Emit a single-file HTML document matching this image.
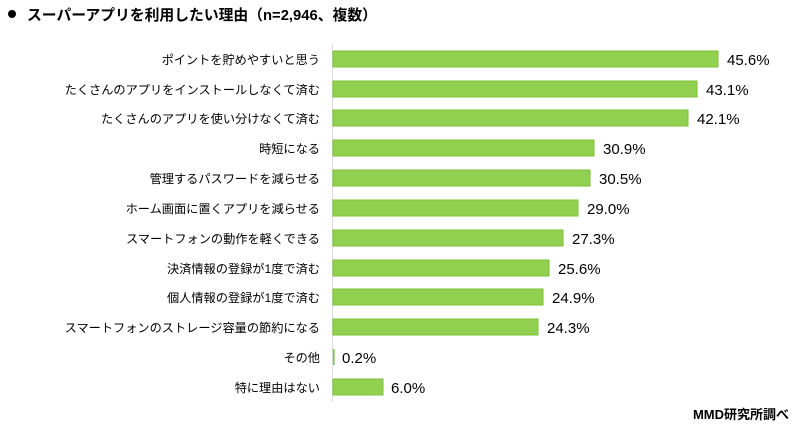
<!DOCTYPE html>
<html><head><meta charset="utf-8"><style>
body{margin:0;width:800px;height:429px;background:#fff;overflow:hidden;font-family:"Liberation Sans","Noto Sans CJK JP",sans-serif;color:#000}
</style></head><body>
<svg width="800" height="429" xmlns="http://www.w3.org/2000/svg" style="font-family:'Liberation Sans','Noto Sans CJK JP',sans-serif">
<circle cx="12" cy="14" r="4" fill="#000"/>
<text x="27" y="20" font-size="14.8" font-weight="bold">スーパーアプリを利用したい理由（n=2,946、複数）</text>
<line x1="332.5" y1="44" x2="332.5" y2="402" stroke="#d9d9d9" stroke-width="1"/>
<g font-size="12.2">
<rect x="333" y="51" width="385" height="16" fill="#92d050" stroke="#7cbf38" stroke-width="1"/><text x="320" y="64" text-anchor="end">ポイントを貯めやすいと思う</text><text x="727" y="65" font-size="15">45.6%</text>
<rect x="333" y="81" width="364" height="16" fill="#92d050" stroke="#7cbf38"/><text x="320" y="94" text-anchor="end">たくさんのアプリをインストールしなくて済む</text><text x="706" y="95" font-size="15">43.1%</text>
<rect x="333" y="110" width="355" height="16" fill="#92d050" stroke="#7cbf38"/><text x="320" y="123" text-anchor="end">たくさんのアプリを使い分けなくて済む</text><text x="697" y="124" font-size="15">42.1%</text>
<rect x="333" y="140" width="261" height="16" fill="#92d050" stroke="#7cbf38"/><text x="320" y="153" text-anchor="end">時短になる</text><text x="603" y="154" font-size="15">30.9%</text>
<rect x="333" y="170" width="257" height="16" fill="#92d050" stroke="#7cbf38"/><text x="320" y="183" text-anchor="end">管理するパスワードを減らせる</text><text x="599" y="184" font-size="15">30.5%</text>
<rect x="333" y="200" width="245" height="16" fill="#92d050" stroke="#7cbf38"/><text x="320" y="213" text-anchor="end">ホーム画面に置くアプリを減らせる</text><text x="587" y="214" font-size="15">29.0%</text>
<rect x="333" y="230" width="230" height="16" fill="#92d050" stroke="#7cbf38"/><text x="320" y="243" text-anchor="end">スマートフォンの動作を軽くできる</text><text x="572" y="244" font-size="15">27.3%</text>
<rect x="333" y="260" width="216" height="16" fill="#92d050" stroke="#7cbf38"/><text x="320" y="273" text-anchor="end">決済情報の登録が1度で済む</text><text x="558" y="274" font-size="15">25.6%</text>
<rect x="333" y="289" width="210" height="16" fill="#92d050" stroke="#7cbf38"/><text x="320" y="302" text-anchor="end">個人情報の登録が1度で済む</text><text x="552" y="303" font-size="15">24.9%</text>
<rect x="333" y="319" width="205" height="16" fill="#92d050" stroke="#7cbf38"/><text x="320" y="332" text-anchor="end">スマートフォンのストレージ容量の節約になる</text><text x="547" y="333" font-size="15">24.3%</text>
<rect x="333" y="349" width="1.5" height="16" fill="#7cbf38"/><text x="320" y="362" text-anchor="end">その他</text><text x="342" y="363" font-size="15">0.2%</text>
<rect x="333" y="379" width="50" height="16" fill="#92d050" stroke="#7cbf38"/><text x="320" y="392" text-anchor="end">特に理由はない</text><text x="391" y="393" font-size="15">6.0%</text>
</g>
<text x="789" y="419" font-size="13" font-weight="bold" text-anchor="end">MMD研究所調べ</text>
</svg>
</body></html>
